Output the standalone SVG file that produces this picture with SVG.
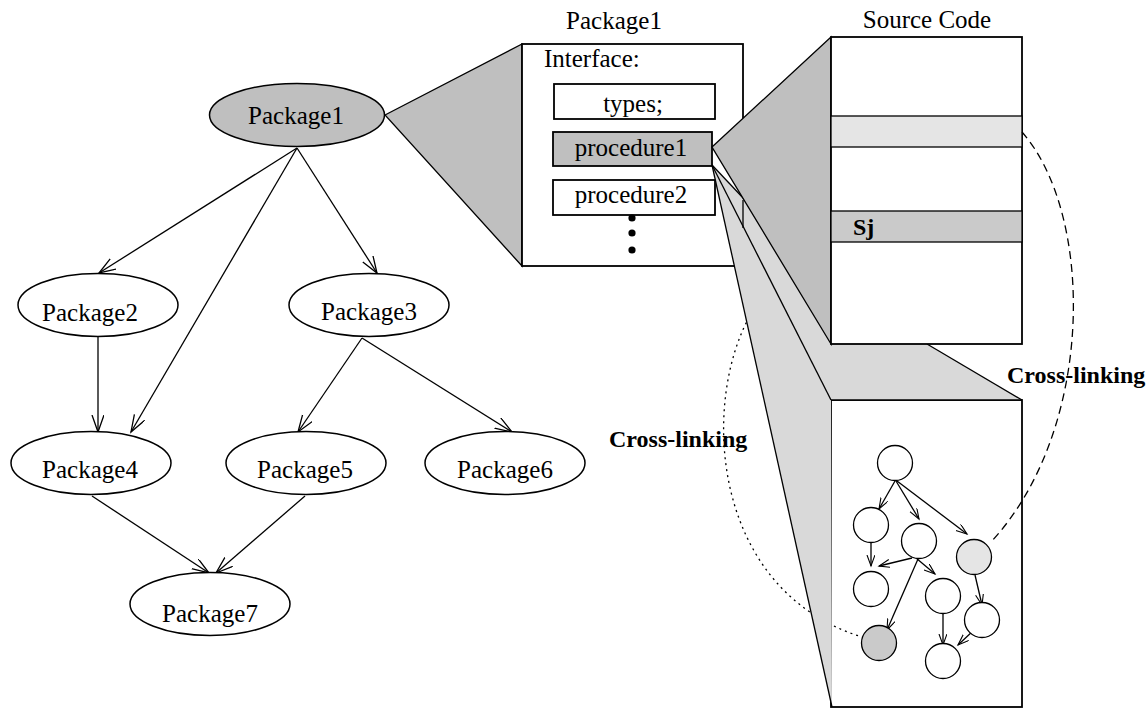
<svg xmlns="http://www.w3.org/2000/svg" width="1146" height="708" viewBox="0 0 1146 708">
<style>
  text { font-family: "Liberation Serif", "Times New Roman", serif; font-size: 25px; fill: #000; }
  .b { font-weight: bold; font-size: 24px; }
  .ln { stroke: #000; stroke-width: 1.3; fill: none; }
  .node { stroke: #000; stroke-width: 1.5; fill: #fff; }
  .gray { fill: #bfbfbf; }
  .box { stroke: #000; stroke-width: 1.8; fill: #fff; }
  .cn { stroke: #000; stroke-width: 1.3; fill: #fff; }
</style>
<defs>
  <marker id="ah" markerWidth="20" markerHeight="14" refX="17" refY="6" orient="auto" markerUnits="userSpaceOnUse">
    <path d="M0,0 L17,6 L0,12" fill="none" stroke="#000" stroke-width="1.3"/>
  </marker>
  <marker id="as" markerWidth="14" markerHeight="10" refX="11" refY="4" orient="auto" markerUnits="userSpaceOnUse">
    <path d="M0,0 L11,4 L0,8" fill="none" stroke="#000" stroke-width="1.1"/>
  </marker>
</defs>

<g id="connectors">
  <path class="ln" d="M297,148 L99,273" marker-end="url(#ah)"/>
  <path class="ln" d="M297,148 L131,432" marker-end="url(#ah)"/>
  <path class="ln" d="M297,148 L377,273" marker-end="url(#ah)"/>
  <path class="ln" d="M98,337 L98,432" marker-end="url(#ah)"/>
  <path class="ln" d="M362,338 L298,432" marker-end="url(#ah)"/>
  <path class="ln" d="M362,338 L512,432" marker-end="url(#ah)"/>
  <path class="ln" d="M92,496 L209,573" marker-end="url(#ah)"/>
  <path class="ln" d="M305,496 L216,573" marker-end="url(#ah)"/>
</g>

<g id="package1"><ellipse class="node gray" cx="297" cy="115" rx="87.5" ry="31.5"/><text x="296" y="124" text-anchor="middle">Package1</text></g>
<g id="package2"><ellipse class="node" cx="98" cy="305" rx="80" ry="31.5"/><text x="90" y="321" text-anchor="middle">Package2</text></g>
<g id="package3"><ellipse class="node" cx="369" cy="305" rx="80" ry="31.5"/><text x="369" y="320" text-anchor="middle">Package3</text></g>
<g id="package4"><ellipse class="node" cx="91" cy="463" rx="80" ry="31.5"/><text x="90" y="478" text-anchor="middle">Package4</text></g>
<g id="package5"><ellipse class="node" cx="306" cy="463" rx="80" ry="31.5"/><text x="305" y="478" text-anchor="middle">Package5</text></g>
<g id="package6"><ellipse class="node" cx="505" cy="463" rx="80" ry="31.5"/><text x="505" y="478" text-anchor="middle">Package6</text></g>
<g id="package7"><ellipse class="node" cx="210" cy="604" rx="80" ry="31.5"/><text x="210" y="622" text-anchor="middle">Package7</text></g>

<g id="zoom-package1">
  <polygon points="385,115 522,44 522,266" fill="#bfbfbf" stroke="#000" stroke-width="1.3"/>
</g>

<g id="interface-box">
  <text x="614" y="29" text-anchor="middle">Package1</text>
  <rect class="box" x="522" y="44" width="221" height="222"/>
  <text x="544" y="67">Interface:</text>
  <rect x="554" y="84" width="161" height="35" fill="#fff" stroke="#000" stroke-width="1.8"/>
  <text x="633" y="112" text-anchor="middle">types;</text>
  <rect x="553" y="132" width="159" height="34" fill="#bfbfbf" stroke="#000" stroke-width="1.8"/>
  <text x="631" y="156" text-anchor="middle">procedure1</text>
  <rect x="553" y="180" width="162" height="35" fill="#fff" stroke="#000" stroke-width="1.8"/>
  <text x="631" y="203" text-anchor="middle">procedure2</text>
  <circle cx="632" cy="218" r="3.6"/>
  <circle cx="632" cy="233" r="3.6"/>
  <circle cx="632" cy="250" r="3.6"/>
</g>

<g id="call-graph-box">
  <rect class="box" x="831" y="400" width="191" height="307"/>
</g>

<g id="cross-link-left">
  <path d="M752,312 C700,400 710,590 862,637" fill="none" stroke="#000" stroke-width="1.3" stroke-dasharray="2,4"/>
</g>

<g id="call-graph">
  <g id="cg-edges">
    <path class="ln" d="M895,481 L879,509" marker-end="url(#as)"/>
    <path class="ln" d="M896,481 L919,519" marker-end="url(#as)"/>
    <path class="ln" d="M897,481 L967,534" marker-end="url(#as)"/>
    <path class="ln" d="M871,543 L871,566" marker-end="url(#as)"/>
    <path class="ln" d="M912,558 L879,566" marker-end="url(#as)"/>
    <path class="ln" d="M916,558 L935,574" marker-end="url(#as)"/>
    <path class="ln" d="M918,559 L887,630" marker-end="url(#as)"/>
    <path class="ln" d="M943,614 L943,645" marker-end="url(#as)"/>
    <path class="ln" d="M975,575 L982,605" marker-end="url(#as)"/>
    <path class="ln" d="M974,630 L958,645" marker-end="url(#as)"/>
  </g>
  <circle id="c1" class="cn" cx="895" cy="463" r="17.5"/>
  <circle id="c2" class="cn" cx="871" cy="525" r="17.5"/>
  <circle id="c3" class="cn" cx="919" cy="541" r="17.5"/>
  <circle id="c4" class="cn" cx="974" cy="557" r="17.5" fill="#e5e5e5" style="fill:#e5e5e5"/>
  <circle id="c5" class="cn" cx="871" cy="589" r="17.5"/>
  <circle id="c6" class="cn" cx="943" cy="596" r="17.5"/>
  <circle id="c7" class="cn" cx="982" cy="620" r="17.5"/>
  <circle id="c8" class="cn" cx="879" cy="643" r="17.5" style="fill:#cacaca"/>
  <circle id="c9" class="cn" cx="943" cy="661" r="17.5"/>
</g>

<g id="zoom-procedure-fan">
  <polygon points="712,165 832,707 831,400 1022,400 927,344 831,344 745,200" fill="#d9d9d9"/>
  <path class="ln" d="M712,165 L832,707"/>
  <path class="ln" d="M712,165 L831,400"/>
  <path class="ln" d="M712,165 L745,200"/>
  <path class="ln" d="M927,344 L1022,400"/>
  <path class="ln" d="M831,400 L1022,400" stroke-width="1.8"/>
  <path class="ln" d="M743,200 L743,228" stroke-width="1.8"/>
</g>

<g id="zoom-procedure1">
  <polygon points="712,147 831,37 831,344" fill="#bfbfbf" stroke="#000" stroke-width="1.3"/>
</g>

<g id="source-code">
  <text x="927" y="28" text-anchor="middle">Source Code</text>
  <rect class="box" x="831" y="37" width="191" height="307"/>
  <rect x="831" y="116" width="191" height="31" fill="#e5e5e5" stroke="#000" stroke-width="1.3"/>
  <rect x="831" y="211" width="191" height="31" fill="#cacaca" stroke="#000" stroke-width="1.3"/>
  <text class="b" x="853" y="235">Sj</text>
</g>

<g id="cross-link-right">
  <path d="M1022,132 C1095,215 1095,430 991,542" fill="none" stroke="#000" stroke-width="1.3" stroke-dasharray="8,5"/>
</g>

<g id="labels">
  <text class="b" x="609" y="447">Cross-linking</text>
  <text class="b" x="1007" y="383">Cross-linking</text>
</g>
</svg>
